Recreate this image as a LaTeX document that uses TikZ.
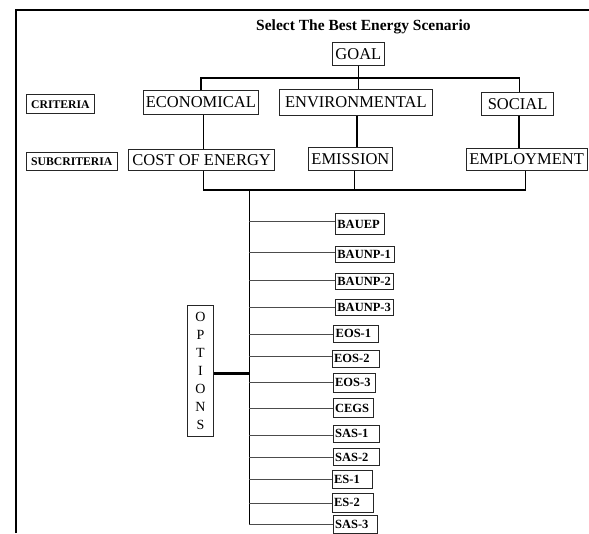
\documentclass[tikz,border=0pt]{standalone}
\usepackage{fontspec}
\setmainfont{Liberation Serif}
\begin{document}
\begin{tikzpicture}[x=1pt,y=-1pt,
  frame/.style={line width=1.5pt,black},
  conn/.style={line width=1.6pt,black},
  thickconn/.style={line width=3pt,black},
  branch/.style={line width=0.8pt,black!70},
  box/.style={draw=black!85,line width=0.8pt,inner sep=1pt,anchor=north west,
    font=\fontsize{16.5}{18}\selectfont},
  lblbox/.style={box,font=\fontsize{11.7}{13}\selectfont\bfseries},
  optbox/.style={draw=black!85,line width=0.8pt,anchor=north west,inner xsep=2pt,inner ysep=0pt,
    align=left,font=\fontsize{12.5}{14}\selectfont\bfseries}]
\useasboundingbox (0,0) rectangle (589,533);
\draw[frame] (16,533) -- (16,10) -- (589,10);
\node[anchor=base,font=\fontsize{15.5}{17}\selectfont\bfseries] (title) at (363.4,30) {Select The Best Energy Scenario};
% goal & criteria
\node[box,minimum width=52.6pt,minimum height=23.3pt] (goal) at (331.7,41.7) {GOAL};
\node[lblbox,minimum width=68pt,minimum height=19pt] (crit) at (26,94.3) {CRITERIA};
\node[box,minimum width=115.6pt,minimum height=24pt] (econ) at (142.7,90) {ECONOMICAL};
\node[box,minimum width=152.4pt,minimum height=26pt] (env) at (279.3,89) {ENVIRONMENTAL};
\node[box,minimum width=72.3pt,minimum height=23.3pt] (soc) at (481,91.7) {SOCIAL};
\node[lblbox,minimum width=90.7pt,minimum height=17.7pt] (subcrit) at (26,152.3) {SUBCRITERIA};
\node[box,minimum width=146pt,minimum height=21pt] (cost) at (128.3,149) {COST OF ENERGY};
\node[box,minimum width=83.4pt,minimum height=23.3pt] (emis) at (308.3,146.7) {EMISSION};
\node[box,minimum width=121pt,minimum height=21.7pt] (empl) at (465.7,148.3) {EMPLOYMENT};
% upper connectors
\coordinate (topbus) at (357.7,77.7);
\draw[conn] (goal.south |- goal.south) -- (goal.south |- env.north);
\draw[conn] (econ.north) |- (topbus) -| ([xshift=2pt]soc.north);
\draw[conn] ([xshift=2.5pt]econ.south) -- ([xshift=2.5pt]econ.south |- cost.north);
\draw[conn] ([xshift=1.2pt]env.south) -- ([xshift=1.2pt]env.south |- emis.north);
\draw[conn] ([xshift=1.7pt]soc.south) -- ([xshift=1.7pt]soc.south |- empl.north);
\coordinate (botbus) at (249.3,190);
\draw[conn] ([xshift=1.7pt]cost.south) |- (botbus) -| ([xshift=-1.2pt]empl.south);
\draw[conn] ([xshift=4pt]emis.south) -- ([xshift=4pt]emis.south |- botbus);
% options
\node[draw=black!85,line width=0.8pt,anchor=north west,minimum width=25.4pt,minimum height=131pt,
  inner sep=0pt,align=center,font=\fontsize{14}{18}\selectfont] (opts) at (187.3,305)
  {O\\P\\T\\I\\O\\N\\S};
\node[optbox,text width=45pt,minimum height=20.7pt] (o1) at (335,213.3) {\mbox{BAUEP}};
\node[optbox,text width=55.3pt,minimum height=16pt] (o2) at (335,245.7) {\mbox{BAUNP-1}};
\node[optbox,text width=54.3pt,minimum height=16pt] (o3) at (335,273.3) {\mbox{BAUNP-2}};
\node[optbox,text width=54pt,minimum height=15.7pt] (o4) at (335,299.3) {\mbox{BAUNP-3}};
\node[optbox,text width=41pt,minimum height=16.7pt] (o5) at (333.3,325) {\mbox{EOS-1}};
\node[optbox,text width=43.6pt,minimum height=16.7pt] (o6) at (331.7,350) {\mbox{EOS-2}};
\node[optbox,text width=38.3pt,minimum height=18.4pt] (o7) at (332.7,373.3) {\mbox{EOS-3}};
\node[optbox,text width=36pt,minimum height=19pt] (o8) at (332.7,398.3) {\mbox{CEGS}};
\node[optbox,text width=42.3pt,minimum height=16.7pt] (o9) at (332.7,425) {\mbox{SAS-1}};
\node[optbox,text width=42.3pt,minimum height=16.7pt] (o10) at (332.7,448.3) {\mbox{SAS-2}};
\node[optbox,text width=36pt,minimum height=18.3pt] (o11) at (331.7,470) {\mbox{ES-1}};
\node[optbox,text width=37pt,minimum height=18.4pt] (o12) at (331.7,493.3) {\mbox{ES-2}};
\node[optbox,text width=40pt,minimum height=18.3pt] (o13) at (332.7,515) {\mbox{SAS-3}};
% trunk & branches
\coordinate (t1) at (249.3,221.7);
\coordinate (t2) at (249.3,252.3);
\coordinate (t3) at (249.3,280);
\coordinate (t4) at (249.3,307.7);
\coordinate (t5) at (249.3,334.3);
\coordinate (t6) at (249.3,356);
\coordinate (t7) at (249.3,382.7);
\coordinate (t8) at (249.3,408.3);
\coordinate (t9) at (249.3,435);
\coordinate (t10) at (249.3,457.3);
\coordinate (t11) at (249.3,479);
\coordinate (t12) at (249.3,503.3);
\coordinate (t13) at (249.3,524.3);
\draw[conn] (botbus) -- (t13);
\foreach \i in {1,...,13}{\draw[branch] (t\i) -- (o\i.west |- t\i);}
\coordinate (oj) at (249.3,373.3);
\draw[thickconn] (opts.east |- oj) -- (oj);
\end{tikzpicture}
\end{document}
